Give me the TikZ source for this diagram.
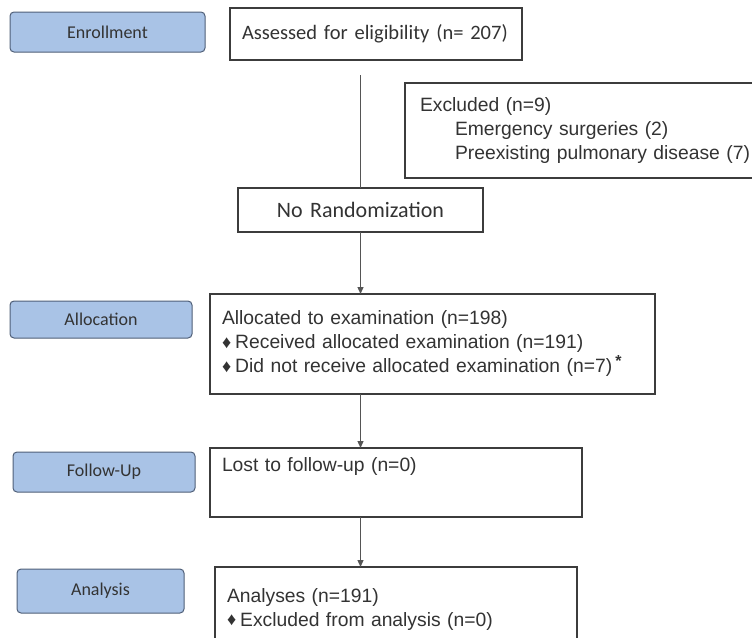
\documentclass[tikz,border=0pt]{standalone}
\usepackage{fontspec}
\setmainfont{Liberation Sans}
\newfontfamily\calfont{Carlito}
\usetikzlibrary{positioning, arrows.meta}
\definecolor{phasefill}{HTML}{A9C3E6}
\definecolor{phaseline}{HTML}{4F5F78}
\definecolor{boxline}{HTML}{3C3C3C}
\definecolor{connline}{HTML}{555555}
\definecolor{txtgrey}{HTML}{333333}
\tikzset{
x=1pt, y=-1pt,
phase/.style={draw=phaseline, fill=phasefill, line width=1pt, rounded corners=4pt, anchor=north west, outer sep=0pt, font=\calfont\fontsize{18}{20}\selectfont, text=txtgrey}, % stage labels on the left
flowbox/.style={draw=boxline, line width=1.2pt, fill=white, anchor=north west, outer sep=0pt, align=left, inner xsep=12pt, font=\fontsize{19.3}{24}\selectfont, text=txtgrey}, % boxes of the flow
link/.style={draw=connline, line width=1.3pt},
arr/.style={link, -{Triangle[length=7pt, width=6pt]}},
}
\newcommand{\dia}{{\fontsize{18}{18}\selectfont\raisebox{0.5pt}{♦}}\hspace{4pt}}

\begin{document}
\begin{tikzpicture}
\useasboundingbox (0,0) rectangle (752,637);
\clip (0,0) rectangle (752,637);
% stages
\node[phase, minimum width=195pt, minimum height=40pt] (enrol) at (10,12) {Enrollment};
\node[phase, minimum width=182pt, minimum height=37pt] (alloc) at (10,301) {Allocation};
\node[phase, minimum width=182pt, minimum height=40pt] (follow) at (13,452) {Follow-Up};
\node[phase, minimum width=167pt, minimum height=44pt] (anal) at (17,569) {Analysis};
% flow
\node[flowbox, font=\calfont\fontsize{20.5}{24}\selectfont, text width=268pt, minimum height=52pt] (assessed) at (230,8) {Assessed for eligibility (n= 207)};
\node[flowbox, text width=360pt, minimum height=95pt, inner xsep=15pt] (excl) at (405,83)
  {Excluded (n=9)\\ \hspace*{35pt}Emergency surgeries (2)\\ \hspace*{35pt}Preexisting pulmonary disease (7)};
\node[flowbox, font=\calfont\fontsize{22}{24}\selectfont, align=center, text width=221pt, minimum height=44pt] (norand) at (238,188) {No Randomization};
\node[flowbox, text width=421pt, minimum height=100pt] (allocbox) at (210,294)
  {Allocated to examination (n=198)\\ \dia Received allocated examination (n=191)\\ \dia Did not receive allocated examination (n=7)\,\raisebox{6pt}{\fontsize{16}{16}\selectfont\bfseries *}};
\node[flowbox, text width=348pt, minimum height=69pt, text depth=36pt] (lost) at (210,448) {Lost to follow-up (n=0)};
\node[flowbox, text width=338pt, minimum height=85pt] (analbox) at (215,567)
  {Analyses (n=191)\\ \dia Excluded from analysis (n=0)};
% connectors
\draw[link] ([yshift=-15pt]assessed.south -| norand.north) -- (norand.north);
\draw[arr] (norand.south) -- (norand.south |- allocbox.north);
\draw[arr] (allocbox.south -| norand.south) -- (lost.north -| norand.south);
\draw[arr] (lost.south -| norand.south) -- (analbox.north -| norand.south);
\end{tikzpicture}
\end{document}
